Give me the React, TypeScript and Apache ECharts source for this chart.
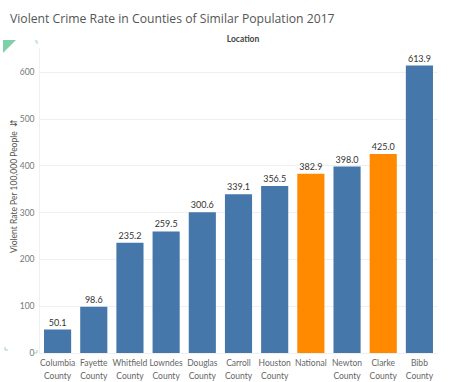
import React, { useEffect, useRef } from "react";
import * as echarts from "echarts";

const categories = [
  "Columbia\nCounty", "Fayette\nCounty", "Whitfield\nCounty", "Lowndes\nCounty", "Douglas\nCounty",
  "Carroll\nCounty", "Houston\nCounty", "National", "Newton\nCounty", "Clarke\nCounty", "Bibb\nCounty",
];
const values = [50.1, 98.6, 235.2, 259.5, 300.6, 339.1, 356.5, 382.9, 398.0, 425.0, 613.9];
const highlighted = ["National", "Clarke\nCounty"];
const title = "Violent Crime Rate in Counties of Similar Population 2017";
const yAxisTitle = "Violent Rate Per 100,000 People";

export default function App() {
  const ref = useRef<HTMLDivElement>(null);
  useEffect(() => {
    const chart = echarts.init(ref.current!, null, { renderer: "svg" });
    chart.setOption({
      animation: false,
      backgroundColor: "#fff",
      title: [
        {
          text: title, left: 5, top: 7,
          textStyle: { fontFamily: "Open Sans", fontSize: 12.2, fontWeight: "normal", color: "#555" },
        },
        {
          text: "Location", left: 238, top: 29, textAlign: "center",
          textStyle: { fontFamily: "Lato", fontSize: 8.5, fontWeight: "bold", color: "#444" },
        },
      ],
      grid: { left: 39.5, right: 30.5, top: 48.6, bottom: 29 },
      xAxis: {
        type: "category",
        data: categories,
        axisLine: { show: false },
        axisTick: { show: false },
        axisLabel: { interval: 0, fontFamily: "Lato", fontSize: 8.5, color: "#666", lineHeight: 13, margin: 3 },
      },
      yAxis: {
        type: "value",
        min: 0, max: 650, interval: 100,
        axisLine: { show: true, lineStyle: { color: "#f0f0f0" } },
        axisTick: { show: false },
        axisLabel: { fontFamily: "Lato", fontSize: 8.5, color: "#777", margin: 5, showMaxLabel: false },
        splitLine: { showMaxLine: false, lineStyle: { color: "#f0f0f0" } },
      },
      series: [
        {
          type: "bar",
          barWidth: "75%",
          data: values.map((v, i) => ({
            value: v,
            itemStyle: { color: highlighted.includes(categories[i]) ? "#FF8A00" : "#4577AA" },
          })),
          label: {
            show: true, position: "top", distance: 3,
            formatter: (p: any) => p.value.toFixed(1),
            fontFamily: "Lato", fontSize: 9, color: "#333",
          },
        },
      ],
      graphic: [
        {
          type: "text", x: 14, y: 186, rotation: Math.PI / 2,
          style: {
            text: yAxisTitle + "  \u21f5", fontFamily: "Lato", fontSize: 8.5, fill: "#555",
            align: "center", verticalAlign: "middle",
          },
        },
        { type: "polygon", shape: { points: [[3, 40], [16, 40], [3, 53]] }, style: { fill: "#7fcfa8" } },
        { type: "polyline", shape: { points: [[35, 41], [37, 41], [37, 44]] }, style: { stroke: "#9bd4b8", fill: "none", lineWidth: 1 } },
        { type: "polyline", shape: { points: [[5, 347], [5, 350], [8, 350]] }, style: { stroke: "#9bd4b8", fill: "none", lineWidth: 1 } },
        { type: "polyline", shape: { points: [[34, 353], [37, 353], [37, 350]] }, style: { stroke: "#9bd4b8", fill: "none", lineWidth: 1 } },
      ],
    });
    return () => chart.dispose();
  }, []);
  return <div ref={ref} style={{ position: "absolute", left: 0, top: 0, width: 468, height: 382 }} />;
}
